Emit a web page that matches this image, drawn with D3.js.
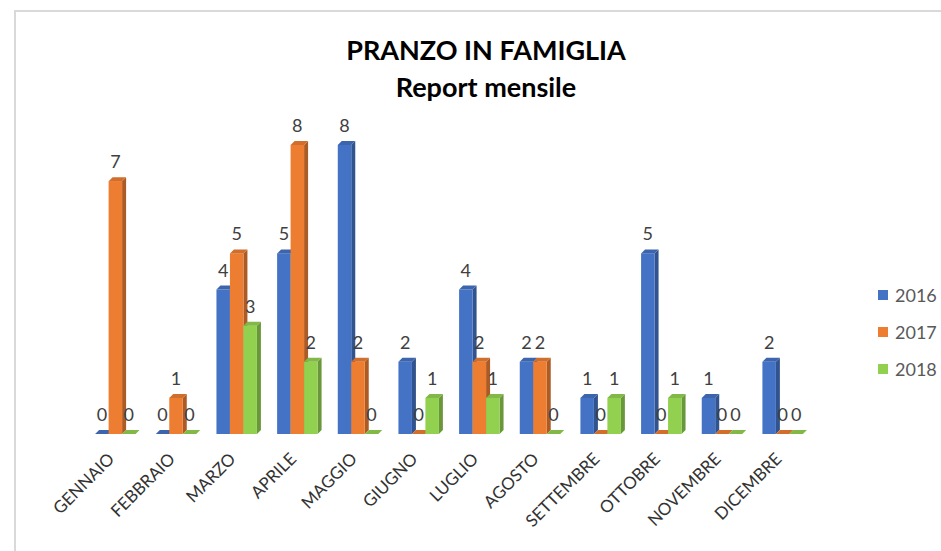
<!DOCTYPE html>
<html>
<head>
<meta charset="utf-8">
<script src="https://cdn.jsdelivr.net/npm/d3@7"></script>
<style>
  html, body { margin: 0; padding: 0; background: #fff; }
  svg { display: block; }
</style>
</head>
<body>
<svg id="chart" width="941" height="551"></svg>
<script>
const months = ["GENNAIO","FEBBRAIO","MARZO","APRILE","MAGGIO","GIUGNO","LUGLIO","AGOSTO","SETTEMBRE","OTTOBRE","NOVEMBRE","DICEMBRE"];
const seriesNames = ["2016","2017","2018"];
const values2016 = [0,0,4,5,8,2,4,2,1,5,1,2];
const values2017 = [7,1,5,8,2,0,2,2,0,0,0,0];
const values2018 = [0,0,3,2,0,1,1,0,1,1,0,0];
const seriesColors = ["#4472C4","#ED7D31","#92D050"];
const titleLines = ["PRANZO IN FAMIGLIA","Report mensile"];

const seriesValues = [values2016, values2017, values2018];
const font = "Lato, 'Open Sans', sans-serif";

const svg = d3.select("#chart");

// chart border
svg.append("rect")
  .attr("x", 15).attr("y", 11).attr("width", 940).attr("height", 560)
  .attr("fill", "none").attr("stroke", "#d9d9d9").attr("stroke-width", 2);

// title
svg.append("text")
  .attr("x", 486).attr("y", 60)
  .attr("text-anchor", "middle")
  .attr("font-family", font).attr("font-weight", "bold")
  .attr("font-size", 27).attr("fill", "#000")
  .text(titleLines[0]);
svg.append("text")
  .attr("x", 486).attr("y", 97)
  .attr("text-anchor", "middle")
  .attr("font-family", font).attr("font-weight", "bold")
  .attr("font-size", 27).attr("fill", "#000")
  .text(titleLines[1]);

const x0 = d3.scaleBand().domain(months).range([85, 813]).paddingInner(0.333).paddingOuter(0.167);
const x1 = d3.scaleBand().domain(seriesNames).range([0, x0.bandwidth()]);
const y = d3.scaleLinear().domain([0, 8]).range([434, 145]);

const depthX = 4, depthY = 4;

const rows = [];
months.forEach((m, i) => {
  seriesNames.forEach((s, j) => {
    rows.push({ month: m, series: s, idx: j, value: seriesValues[j][i] });
  });
});

const bars = svg.append("g").selectAll("g.bar")
  .data(rows).join("g").attr("class", "bar");

bars.each(function(d) {
  const g = d3.select(this);
  const bx = x0(d.month) + x1(d.series);
  const bw = x1.bandwidth();
  const top = y(d.value);
  const base = y(0);
  const c = d3.color(seriesColors[d.idx]);
  if (d.value > 0) {
    // right side face
    g.append("path")
      .attr("d", `M${bx + bw},${top} L${bx + bw + depthX},${top - depthY} L${bx + bw + depthX},${base - depthY} L${bx + bw},${base} Z`)
      .attr("fill", c.darker(0.9));
    // front face
    g.append("rect")
      .attr("x", bx).attr("y", top).attr("width", bw).attr("height", base - top)
      .attr("fill", c);
  }
  // top face
  g.append("path")
    .attr("d", `M${bx},${top} L${bx + depthX},${top - depthY} L${bx + bw + depthX},${top - depthY} L${bx + bw},${top} Z`)
    .attr("fill", c.darker(0.35));
});

// value labels
svg.append("g").selectAll("text")
  .data(rows).join("text")
  .attr("x", d => x0(d.month) + x1(d.series) + x1.bandwidth() / 2)
  .attr("y", d => y(d.value) - 13)
  .attr("text-anchor", "middle")
  .attr("font-family", font).attr("font-size", 18).attr("fill", "#404040")
  .text(d => d.value);

// category labels
svg.append("g").selectAll("text")
  .data(months).join("text")
  .attr("transform", d => `translate(${x0(d) + x0.bandwidth() / 2},${460}) rotate(-45)`)
  .attr("text-anchor", "end")
  .attr("font-family", font).attr("font-size", 17).attr("fill", "#333")
  .text(d => d);

// legend
const legend = svg.append("g").selectAll("g")
  .data(seriesNames).join("g")
  .attr("transform", (d, i) => `translate(878,${295 + i * 37})`);
legend.append("rect")
  .attr("x", 0).attr("y", -5).attr("width", 10).attr("height", 10)
  .attr("fill", (d, i) => seriesColors[i]);
legend.append("text")
  .attr("x", 17).attr("y", 6.5)
  .attr("font-family", font).attr("font-size", 18).attr("fill", "#595959")
  .text(d => d);
</script>
</body>
</html>
